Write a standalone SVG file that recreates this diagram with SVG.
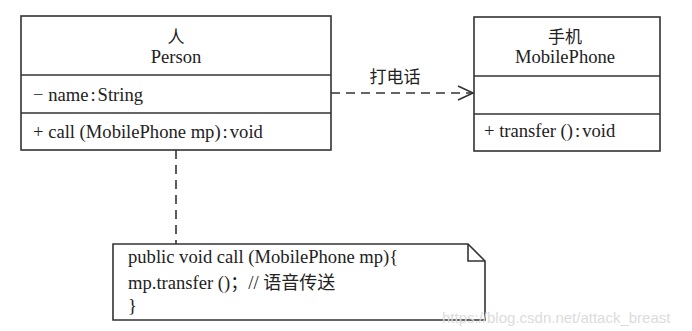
<svg xmlns="http://www.w3.org/2000/svg" width="692" height="331" viewBox="0 0 692 331">
<style>
.box{fill:#fff;stroke:#333;stroke-width:1.6}
.t{font-family:"Liberation Serif","Noto Sans CJK SC",serif;font-size:18.6px;fill:#222}
.c{font-family:"Noto Sans CJK SC",sans-serif;font-size:17px;fill:#222}
.dash{fill:none;stroke:#333;stroke-width:1.6;stroke-dasharray:9 6}
.wm{font-family:"Liberation Sans",Arial,sans-serif;font-size:15px;fill:#dcdcdc}
</style>
<defs>
<marker id="open" markerWidth="18" markerHeight="16" refX="16" refY="8" orient="auto" markerUnits="userSpaceOnUse">
<path d="M1,1 L16,8 L1,15" fill="none" stroke="#333" stroke-width="1.6"/>
</marker>
</defs>
<rect width="692" height="331" fill="#fff"/>
<g id="person">
<rect class="box" x="21" y="16" width="310" height="134"/>
<line class="box" x1="21" y1="75" x2="331" y2="75"/>
<line class="box" x1="21" y1="113" x2="331" y2="113"/>
<text class="c" x="176" y="43" text-anchor="middle">人</text>
<text class="t" x="176" y="63" text-anchor="middle">Person</text>
<text class="t" x="33" y="101">− name<tspan dx="2">:</tspan><tspan dx="2">String</tspan></text>
<text class="t" x="33" y="138">+ call (MobilePhone mp)<tspan dx="2">:</tspan><tspan dx="2">void</tspan></text>
</g>
<g id="mobilephone">
<rect class="box" x="474" y="17" width="186" height="134"/>
<line class="box" x1="474" y1="76" x2="660" y2="76"/>
<line class="box" x1="474" y1="114" x2="660" y2="114"/>
<text class="c" x="565" y="43" text-anchor="middle">手机</text>
<text class="t" x="565" y="63" text-anchor="middle">MobilePhone</text>
<text class="t" x="484" y="137">+ transfer ()<tspan dx="2">:</tspan><tspan dx="2">void</tspan></text>
</g>
<g id="note">
<path class="box" d="M113,244 H468 L485,261 V320 H113 Z"/>
<path d="M468,244 V261 H485" fill="none" stroke="#333" stroke-width="1.6"/>
<text class="t" x="128" y="263">public void call (MobilePhone mp){</text>
<text class="t" x="128" y="289">mp.transfer ()<tspan font-family="Noto Sans CJK SC" font-size="18">；</tspan>// <tspan font-family="Noto Sans CJK SC" font-size="18">语音传送</tspan></text>
<text class="t" x="128" y="312">}</text>
</g>
<g id="connectors">
<line class="dash" x1="331" y1="93" x2="473" y2="93" marker-end="url(#open)"/>
<text class="c" x="395" y="83" text-anchor="middle">打电话</text>
<line class="dash" x1="176" y1="150" x2="176" y2="244"/>
</g>
<text class="wm" x="442" y="323">https://blog.csdn.net/attack_breast</text>
</svg>
